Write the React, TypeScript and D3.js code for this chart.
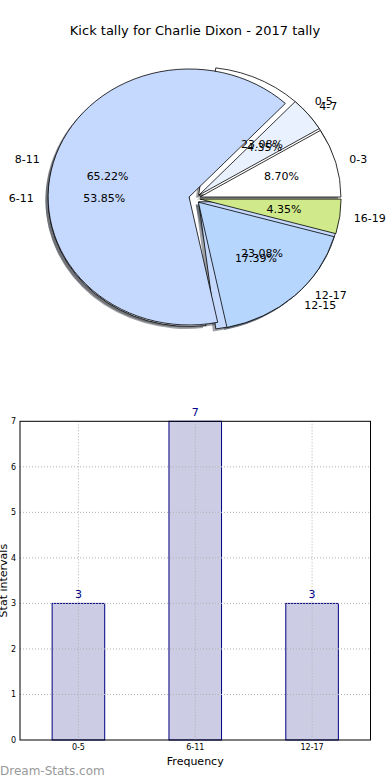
import * as d3 from 'd3';

// pie 1: kicks grouped in 4-wide bins
const tallyLabels = ['0-3', '4-7', '8-11', '12-15', '16-19'];
const tallyValues = [2, 1, 15, 4, 1];
const tallyColors = ['#ffffff', '#eaf1fe', '#c5d9fe', '#b6d6fe', '#d0ea8b'];

// pie 2 + bars: kicks grouped in 6-wide bins
const intervalLabels = ['0-5', '6-11', '12-17'];
const intervalValues = [3, 7, 3];
const intervalColors = ['#ffffff', '#eaf1fe', '#c5d9fe'];

const yTicks = [0, 1, 2, 3, 4, 5, 6, 7];

const FONT = 'DejaVu Sans, sans-serif';

type Slice = d3.PieArcDatum<number>;

function shade(c: string) {
  const col = d3.rgb(c);
  return d3.rgb(col.r * 0.3, col.g * 0.3, col.b * 0.3).toString();
}

function PieLayer({ values, colors, part }: { values: number[]; colors: string[]; part: 'shadow' | 'wedge' }) {
  const cx = 194.5;
  const cy = 198.4;
  const rx = 141;
  const ry = 128;
  const explode = 0.04;
  const pie = d3
    .pie<number>()
    .sort(null)
    .startAngle(Math.PI / 2)
    .endAngle(Math.PI / 2 - 2 * Math.PI);
  const arc = d3.arc<Slice>().innerRadius(0).outerRadius(1);
  const slices = pie(values);
  return (
    <g>
      {slices.map((s, i) => {
        const mid = (s.startAngle + s.endAngle) / 2;
        let dx = explode * rx * Math.sin(mid);
        let dy = -explode * ry * Math.cos(mid);
        if (part === 'shadow') {
          dx += -0.02 * rx;
          dy += 0.02 * ry;
        }
        return (
          <path
            key={i}
            d={arc(s) ?? ''}
            transform={`translate(${cx + dx},${cy + dy}) scale(${rx},${ry})`}
            fill={part === 'shadow' ? shade(colors[i]) : colors[i]}
            fillOpacity={part === 'shadow' ? 0.5 : 1}
            stroke={part === 'shadow' ? 'none' : '#000'}
            strokeWidth={0.8}
            vectorEffect="non-scaling-stroke"
          />
        );
      })}
    </g>
  );
}

function PieText({ values, labels }: { values: number[]; labels: string[] }) {
  const cx = 194.5;
  const cy = 198.4;
  const rx = 141;
  const ry = 128;
  const explode = 0.04;
  const total = d3.sum(values);
  const pie = d3
    .pie<number>()
    .sort(null)
    .startAngle(Math.PI / 2)
    .endAngle(Math.PI / 2 - 2 * Math.PI);
  return (
    <g fontFamily={FONT} fontSize={11} fill="#000">
      {pie(values).map((s, i) => {
        const mid = (s.startAngle + s.endAngle) / 2;
        const ox = cx + explode * rx * Math.sin(mid);
        const oy = cy - explode * ry * Math.cos(mid);
        const lx = ox + 1.1 * rx * Math.sin(mid);
        const ly = oy - 1.1 * ry * Math.cos(mid);
        const px = ox + 0.6 * rx * Math.sin(mid);
        const py = oy - 0.6 * ry * Math.cos(mid);
        return (
          <g key={i}>
            <text x={lx} y={ly} dy="0.35em" textAnchor={Math.sin(mid) > 0 ? 'start' : 'end'}>
              {labels[i]}
            </text>
            <text x={px} y={py} dy="0.35em" textAnchor="middle">
              {`${((s.value / total) * 100).toFixed(2)}%`}
            </text>
          </g>
        );
      })}
    </g>
  );
}

function BarChart() {
  const left = 20;
  const right = 370.5;
  const top = 421.3;
  const bottom = 740;
  const x = d3
    .scaleBand<string>()
    .domain(intervalLabels)
    .range([left, right])
    .paddingInner(0.55)
    .paddingOuter(0.275);
  const y = d3.scaleLinear().domain([0, 7]).range([bottom, top]);
  return (
    <g fontFamily={FONT}>
      {intervalLabels.map((c, i) => (
        <rect
          key={c}
          x={x(c)}
          y={y(intervalValues[i])}
          width={x.bandwidth()}
          height={bottom - y(intervalValues[i])}
          fill="#ccccE5"
          stroke="#000080"
          strokeWidth={1}
        />
      ))}
      {yTicks.slice(1, -1).map((t) => (
        <line key={t} x1={left} x2={right} y1={y(t)} y2={y(t)} stroke="#b0b0b0" strokeDasharray="1,2" />
      ))}
      {intervalLabels.map((c) => (
        <line
          key={c}
          x1={x(c)! + x.bandwidth() / 2}
          x2={x(c)! + x.bandwidth() / 2}
          y1={top}
          y2={bottom}
          stroke="#b0b0b0"
          strokeDasharray="1,2"
        />
      ))}
      <rect x={left} y={top} width={right - left} height={bottom - top} fill="none" stroke="#000" strokeWidth={1} />
      {intervalLabels.map((c, i) => (
        <text
          key={c}
          x={x(c)! + x.bandwidth() / 2}
          y={y(intervalValues[i]) - 5}
          textAnchor="middle"
          fontSize={11}
          fill="#00008b"
        >
          {intervalValues[i]}
        </text>
      ))}
      {yTicks.map((t) => (
        <text key={t} x={left - 4} y={y(t)} dy="0.35em" textAnchor="end" fontSize={8}>
          {t}
        </text>
      ))}
      {intervalLabels.map((c) => (
        <text key={c} x={x(c)! + x.bandwidth() / 2} y={bottom + 10} textAnchor="middle" fontSize={8}>
          {c}
        </text>
      ))}
      <text x={(left + right) / 2} y={765} textAnchor="middle" fontSize={11}>
        Frequency
      </text>
      <text
        transform={`translate(7,${(top + bottom) / 2}) rotate(-90)`}
        textAnchor="middle"
        fontSize={11}
      >
        Stat intervals
      </text>
    </g>
  );
}

export default function App() {
  return (
    <svg
      width={390}
      height={780}
      style={{ position: 'absolute', left: 0, top: 0, background: '#fff' }}
    >
      <rect width={390} height={780} fill="#fff" />
      <text x={195} y={35} textAnchor="middle" fontFamily={FONT} fontSize={13}>
        Kick tally for Charlie Dixon - 2017 tally
      </text>
      <PieLayer values={intervalValues} colors={intervalColors} part="shadow" />
      <PieLayer values={tallyValues} colors={tallyColors} part="shadow" />
      <PieLayer values={intervalValues} colors={intervalColors} part="wedge" />
      <PieLayer values={tallyValues} colors={tallyColors} part="wedge" />
      <PieText values={intervalValues} labels={intervalLabels} />
      <PieText values={tallyValues} labels={tallyLabels} />
      <BarChart />
      <text x={0} y={775} fontFamily={FONT} fontSize={12} fill="#999">
        Dream-Stats.com
      </text>
    </svg>
  );
}
